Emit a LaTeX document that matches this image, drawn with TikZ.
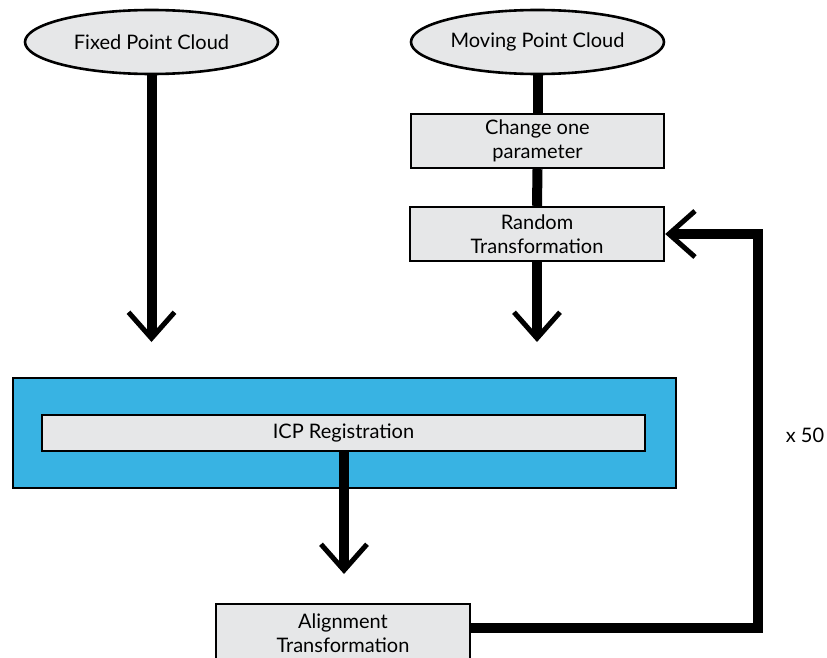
\documentclass[tikz,border=0pt]{standalone}
\usepackage{fontspec}
\setmainfont{Lato}
\usetikzlibrary{shapes.geometric,arrows.meta}
\definecolor{boxgray}{HTML}{E6E7E8}
\definecolor{icpblue}{HTML}{38B3E3}
\tikzset{
  cloud/.style={ellipse,draw=black,line width=2.6pt,fill=boxgray,minimum width=253pt,minimum height=64pt,inner sep=0pt,font=\fontsize{20}{24}\selectfont},
  stepbox/.style={rectangle,draw=black,line width=2.4pt,fill=boxgray,inner sep=0pt,align=center,font=\fontsize{20}{24}\selectfont},
  flow/.style={line width=10pt},
  flowarrow/.style={line width=10pt,-{Straight Barb[length=26pt,width=46pt,line width=5pt]}},
}
\begin{document}
\begin{tikzpicture}[x=1pt,y=-1pt]
\useasboundingbox (0,0) rectangle (827,658);
\node[cloud] (fixed) at (151.5,42) {Fixed Point Cloud};
\node[cloud] (moving) at (537.5,42) {Moving Point Cloud};
\node[stepbox,minimum width=253pt,minimum height=54pt] (change) at (537.5,141) {Change one\\parameter};
\node[stepbox,minimum width=254pt,minimum height=54pt] (random) at (537,234) {Random\\Transformation};
\node[rectangle,draw=black,line width=2.4pt,fill=icpblue,minimum width=663pt,minimum height=110pt,inner sep=0pt] (blue) at (344.5,433) {};
\node[stepbox,minimum width=603pt,minimum height=36pt] (icp) at (343.5,433) {ICP Registration};
\node[stepbox,minimum width=254pt,minimum height=58pt] (align) at (343,633) {Alignment\\Transformation};
\node[font=\fontsize{20}{24}\selectfont] (times) at (805,435) {x 50};
\coordinate (fixedend) at (151.5,342);
\coordinate (movingend) at (537,342);
\coordinate (icpend) at (344,574);
\coordinate (c1) at (758,628);
\coordinate (c2) at (758,234);
\draw[flowarrow] (fixed.south) -- (fixedend);
\draw[flow] (moving.south) -- (change.north);
\draw[flow] (change.south) -- (random.north);
\draw[flowarrow] (random.south) -- (movingend);
\draw[flowarrow] (icp.south -| icpend) -- (icpend);
\draw[flowarrow] (c1 -| align.east) -- (c1) -- (c2) -- (random.east);
\end{tikzpicture}
\end{document}
